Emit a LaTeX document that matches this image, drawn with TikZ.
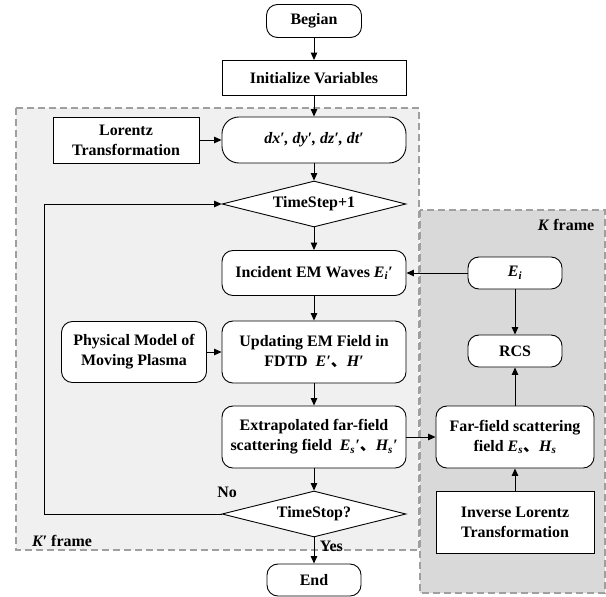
\documentclass[tikz,border=0pt]{standalone}
\usepackage{fontspec}
\setmainfont{Liberation Serif}
\newfontfamily\cjk{Noto Sans CJK SC}
\usepackage{tikz}
\usetikzlibrary{arrows.meta,positioning,shapes.geometric,calc}
\definecolor{kpgray}{HTML}{F0F0F0}
\definecolor{kgray}{HTML}{D9D9D9}
\newcommand{\dun}{{\cjk 、}}
\newcommand{\prm}{\textit{′}}

\begin{document}
\begin{tikzpicture}[
  x=1bp, y=-1bp,
  font=\fontsize{16}{20}\selectfont\bfseries,
  box/.style={rectangle, draw, fill=white, line width=0.9pt, align=center, inner sep=2pt},
  rbox/.style={box, rounded corners=11pt},
  decide/.style={diamond, draw, fill=white, line width=0.9pt, aspect=4, inner sep=0pt,
                 minimum width=184bp, minimum height=46bp},
  frame/.style={draw=gray!75, dash pattern=on 7bp off 4bp, line width=1.1pt},
  arr/.style={-{Triangle[length=7.5pt,width=6.5pt]}, line width=1pt}
]
  \useasboundingbox (0,0) rectangle (606,597);
  \filldraw[frame, fill=kpgray] (16,108) rectangle (419,550);
  \filldraw[frame, fill=kgray] (420,210) rectangle (605,593);
  \node (kp) at (62,541) {\textit{K\prm} frame};
  \node (k)  at (566,225) {\textit{K} frame};

  \node[rbox, minimum width=95bp, minimum height=33bp] (beg) at (314,21) {Begian};
  \node[box, minimum width=184bp, minimum height=35bp] (init) at (314,78) {Initialize Variables};
  \node[box, minimum width=146bp, minimum height=46bp] (lor) at (126,140) {Lorentz\\Transformation};
  \node[rbox, rounded corners=17pt, minimum width=184bp, minimum height=46bp] (dx) at (314,140)
    {\textit{dx\prm, dy\prm, dz\prm, dt\prm}};
  \node[decide] (tstep) at (314,204) {TimeStep+1};
  \node[rbox, minimum width=184bp, minimum height=45bp] (inc) at (314,273)
    {Incident EM Waves \textit{E\textsubscript{i}\prm}};
  \node[rbox, minimum width=145bp, minimum height=61bp] (phy) at (134,352) {Physical Model of\\Moving Plasma};
  \node[rbox, minimum width=184bp, minimum height=62bp] (upd) at (314,352)
    {Updating EM Field in\\FDTD \ \textit{E\prm}\dun\textit{H\prm}};
  \node[rbox, minimum width=184bp, minimum height=62bp] (ext) at (314,437)
    {Extrapolated far-field\\scattering field \ \textit{E\textsubscript{s}\prm}\dun\textit{H\textsubscript{s}\prm}};
  \node[decide] (tstop) at (314,514) {TimeStop?};
  \node[rbox, minimum width=94bp, minimum height=32bp] (end) at (314,580) {End};

  \node[rbox, minimum width=94bp, minimum height=32bp] (ei) at (515,273) {\textit{E\textsubscript{i}}};
  \node[rbox, minimum width=94bp, minimum height=32bp] (rcs) at (515,351) {RCS};
  \node[rbox, minimum width=158bp, minimum height=62bp] (far) at (515,437)
    {Far-field scattering\\field \textit{E\textsubscript{s}}\dun\textit{H\textsubscript{s}}};
  \node[box, minimum width=158bp, minimum height=62bp] (inv) at (515,522) {Inverse Lorentz\\Transformation};

  \coordinate (back) at (44,514);
  \draw[arr] (beg) -- (init);
  \draw[arr] (init) -- (dx);
  \draw[arr] (lor) -- (dx);
  \draw[arr] (dx) -- (tstep);
  \draw[arr] (tstep) -- (inc);
  \draw[arr] (inc) -- (upd);
  \draw[arr] (phy) -- (upd);
  \draw[arr] (upd) -- (ext);
  \draw[arr] (ext) -- (tstop);
  \draw[arr] (tstop) -- node[pos=0.35, right=2pt] (yes) {Yes} (end);
  \draw[arr] (tstop.west) -- (back) |- (tstep.west);
  \node (no) at (227,492) {No};
  \draw[arr] (ei) -- (inc);
  \draw[arr] (ei) -- (rcs);
  \draw[arr] (ext) -- (far);
  \draw[arr] (far) -- (rcs);
  \draw[arr] (inv) -- (far);
\end{tikzpicture}
\end{document}
